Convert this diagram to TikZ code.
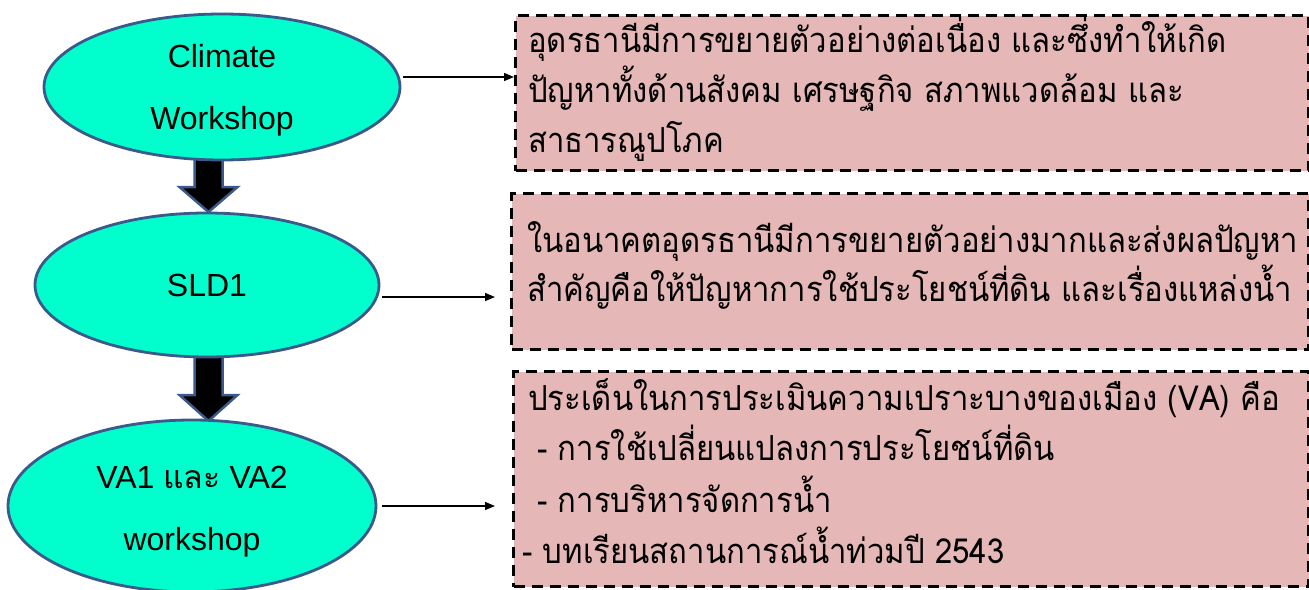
\documentclass[tikz,border=0pt]{standalone}
\usepackage{fontspec}
\setmainfont{Liberation Sans}
\newfontfamily\thai[Script=Thai]{Loma}
\newfontfamily\thaibox[Script=Thai,FakeStretch=0.9]{Loma}
\usetikzlibrary{shapes.geometric,arrows.meta,calc}
\definecolor{ellfill}{RGB}{0,255,204}
\definecolor{ellline}{RGB}{59,89,138}
\definecolor{boxfill}{RGB}{229,183,183}
\begin{document}
\begin{tikzpicture}[x=1pt,y=-1pt,
  ell/.style={ellipse,draw=ellline,fill=ellfill,line width=2.8pt,inner sep=0pt},
  lbl/.style={align=center,font=\fontsize{32}{62}\selectfont,inner sep=0pt},
  box/.style={rectangle,draw=black,fill=boxfill,line width=3.3pt,
    dash pattern=on 11pt off 7pt,anchor=north west,inner sep=0pt},
  tl/.style={anchor=base west,inner sep=0pt,font=\thaibox\fontsize{34.5}{40}\selectfont},
  blockarrow/.style={fill=black,draw=ellline,line width=2.5pt,line join=miter},
  conn/.style={draw=black,line width=1.3pt,-{Triangle[length=10pt,width=8pt]}}]
\path[use as bounding box] (0,0) rectangle (1309,589);
% block arrows
\coordinate (a1) at (208,158);
\coordinate (a2) at (208,356);
\draw[blockarrow] (a1) ++(-13.5,0) -- ++(0,29) -- ++(-15,0) -- ++(29,25) -- ++(29,-25) -- ++(-15,0) -- ++(0,-29) -- cycle;
\draw[blockarrow] (a2) ++(-13.5,0) -- ++(0,39) -- ++(-15,0) -- ++(29,26) -- ++(29,-26) -- ++(-15,0) -- ++(0,-39) -- cycle;
% ellipses
\node[ell,minimum width=356pt,minimum height=146pt,
  label={[lbl,yshift=-3pt]center:{Climate\\Workshop}}] (e1) at (222,87) {};
\node[ell,minimum width=344pt,minimum height=144pt,
  label={[lbl]center:SLD1}] (e2) at (207,285) {};
\node[ell,minimum width=368pt,minimum height=172pt,
  label={[lbl,yshift=-6pt]center:{VA1 {\thai และ} VA2\\workshop}}] (e3) at (192,506) {};
% boxes
\node[box,minimum width=793pt,minimum height=155pt] (b1) at (514,14) {};
\node[box,minimum width=797pt,minimum height=156pt] (b2) at (510,192) {};
\node[box,minimum width=795pt,minimum height=215pt] (b3) at (512,370) {};
% box texts
\node[tl] (t11) at (528,52) {อุดรธานีมีการขยายตัวอย่างต่อเนื่อง และซึ่งทำให้เกิด};
\node[tl] (t12) at (528,102) {ปัญหาทั้งด้านสังคม เศรษฐกิจ สภาพแวดล้อม และ};
\node[tl] (t13) at (528,152) {สาธารณูปโภค};
\node[tl] (t21) at (527,252) {ในอนาคตอุดรธานีมีการขยายตัวอย่างมากและส่งผลปัญหา};
\node[tl] (t22) at (527,301) {สำคัญคือให้ปัญหาการใช้ประโยชน์ที่ดิน และเรื่องแหล่งน้ำ};
\node[tl] (t31) at (528,410) {ประเด็นในการประเมินความเปราะบางของเมือง (VA) คือ};
\node[tl] (t32) at (537,460) {- การใช้เปลี่ยนแปลงการประโยชน์ที่ดิน};
\node[tl] (t33) at (537,512) {- การบริหารจัดการน้ำ};
\node[tl] (t34) at (522,563) {- บทเรียนสถานการณ์น้ำท่วมปี 2543};
% connectors
\coordinate (s1) at ($(e1.east)+(2,-10)$);
\coordinate (s2) at ($(e2.east)+(2,12)$);
\coordinate (s3) at ($(e3.east)+(5,0)$);
\draw[conn] (s1) -- (s1 -| b1.west);
\draw[conn] (s2) -- ($(s2 -| b2.west)+(-15,0)$);
\draw[conn] (s3) -- ($(s3 -| b3.west)+(-17,0)$);
\end{tikzpicture}
\end{document}
